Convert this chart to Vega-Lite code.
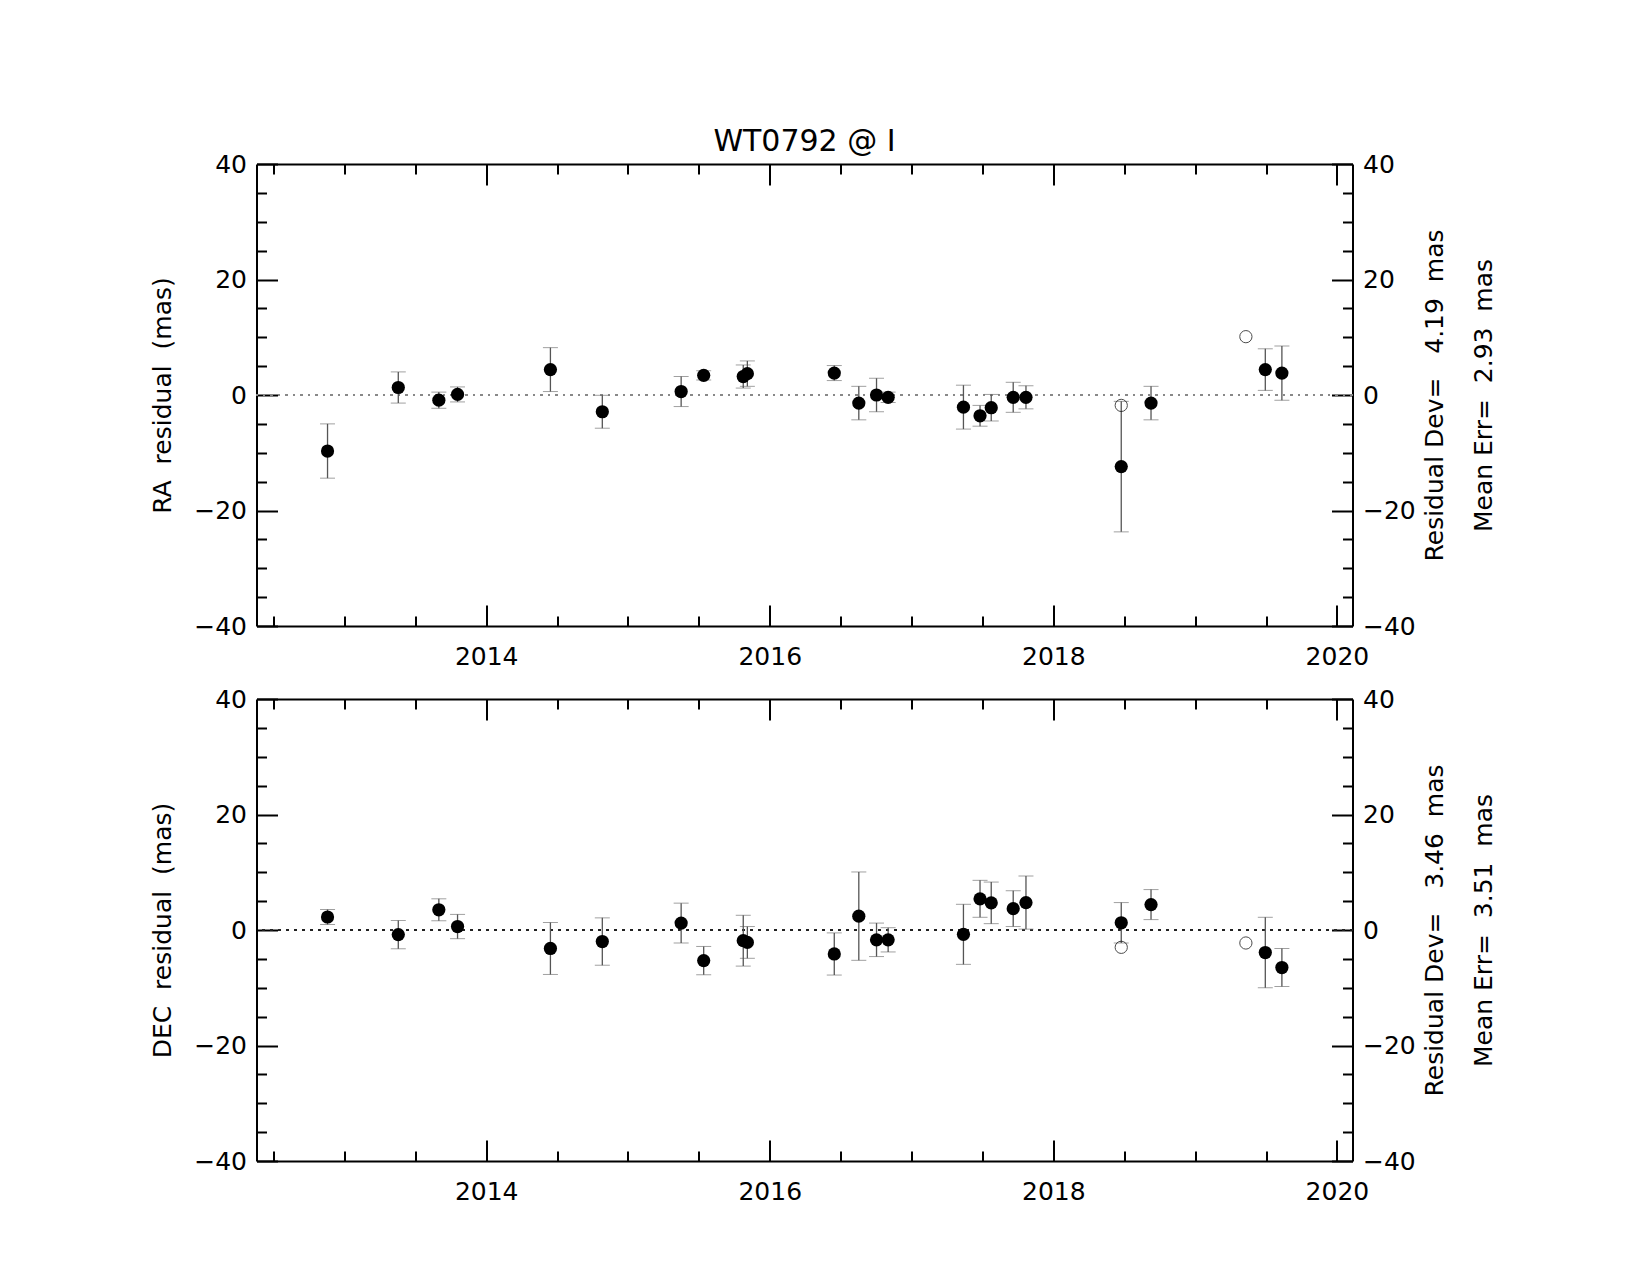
{
  "$schema": "https://vega.github.io/schema/vega-lite/v6.json",
  "autosize": {"type": "pad"},
  "padding": {"left": 150.5, "top": 127, "right": 5, "bottom": 5},
  "background": "white",
  "config": {
    "view": {"stroke": null},
    "title": {"font": "DejaVu Sans", "fontSize": 30, "fontWeight": "normal", "color": "black"},
    "axis": {
      "domainColor": "black", "domainWidth": 2, "tickColor": "black", "tickWidth": 2,
      "labelFont": "DejaVu Sans", "labelFontSize": 25, "labelColor": "black",
      "titleFont": "DejaVu Sans", "titleFontSize": 25, "titleFontWeight": "normal", "titleColor": "black",
      "grid": false, "labelOverlap": false, "labelFlush": false
    }
  },
  "datasets": {
    "pts": [
      {"panel": "RA", "kind": "filled", "year": 2012.881, "value": -9.7, "err": 4.7},
      {"panel": "RA", "kind": "filled", "year": 2013.380, "value": 1.3, "err": 2.7},
      {"panel": "RA", "kind": "filled", "year": 2013.666, "value": -0.9, "err": 1.4},
      {"panel": "RA", "kind": "filled", "year": 2013.798, "value": 0.1, "err": 1.3},
      {"panel": "RA", "kind": "filled", "year": 2014.453, "value": 4.4, "err": 3.8},
      {"panel": "RA", "kind": "filled", "year": 2014.819, "value": -2.9, "err": 2.85},
      {"panel": "RA", "kind": "filled", "year": 2015.375, "value": 0.6, "err": 2.6},
      {"panel": "RA", "kind": "filled", "year": 2015.534, "value": 3.4, "err": 0.8},
      {"panel": "RA", "kind": "filled", "year": 2015.813, "value": 3.2, "err": 2.0},
      {"panel": "RA", "kind": "filled", "year": 2015.842, "value": 3.7, "err": 2.2},
      {"panel": "RA", "kind": "filled", "year": 2016.455, "value": 3.8, "err": 1.3},
      {"panel": "RA", "kind": "filled", "year": 2016.628, "value": -1.4, "err": 2.9},
      {"panel": "RA", "kind": "filled", "year": 2016.753, "value": 0.0, "err": 2.9},
      {"panel": "RA", "kind": "filled", "year": 2016.835, "value": -0.4, "err": 0.9},
      {"panel": "RA", "kind": "filled", "year": 2017.366, "value": -2.1, "err": 3.8},
      {"panel": "RA", "kind": "filled", "year": 2017.483, "value": -3.6, "err": 1.8},
      {"panel": "RA", "kind": "filled", "year": 2017.562, "value": -2.2, "err": 2.3},
      {"panel": "RA", "kind": "filled", "year": 2017.717, "value": -0.4, "err": 2.6},
      {"panel": "RA", "kind": "filled", "year": 2017.807, "value": -0.4, "err": 2.0},
      {"panel": "RA", "kind": "filled", "year": 2018.479, "value": -12.4, "err": 11.3},
      {"panel": "RA", "kind": "filled", "year": 2018.689, "value": -1.4, "err": 2.9},
      {"panel": "RA", "kind": "filled", "year": 2019.495, "value": 4.4, "err": 3.6},
      {"panel": "RA", "kind": "filled", "year": 2019.612, "value": 3.8, "err": 4.7},
      {"panel": "RA", "kind": "open", "year": 2018.479, "value": -1.8, "err": 0},
      {"panel": "RA", "kind": "open", "year": 2019.358, "value": 10.1, "err": 0},
      {"panel": "DEC", "kind": "filled", "year": 2012.881, "value": 2.25, "err": 1.3},
      {"panel": "DEC", "kind": "filled", "year": 2013.380, "value": -0.8, "err": 2.45},
      {"panel": "DEC", "kind": "filled", "year": 2013.666, "value": 3.5, "err": 1.9},
      {"panel": "DEC", "kind": "filled", "year": 2013.798, "value": 0.6, "err": 2.1},
      {"panel": "DEC", "kind": "filled", "year": 2014.453, "value": -3.2, "err": 4.5},
      {"panel": "DEC", "kind": "filled", "year": 2014.819, "value": -2.0, "err": 4.1},
      {"panel": "DEC", "kind": "filled", "year": 2015.375, "value": 1.2, "err": 3.45},
      {"panel": "DEC", "kind": "filled", "year": 2015.534, "value": -5.3, "err": 2.45},
      {"panel": "DEC", "kind": "filled", "year": 2015.813, "value": -1.85, "err": 4.4},
      {"panel": "DEC", "kind": "filled", "year": 2015.842, "value": -2.15, "err": 2.75},
      {"panel": "DEC", "kind": "filled", "year": 2016.455, "value": -4.15, "err": 3.65},
      {"panel": "DEC", "kind": "filled", "year": 2016.628, "value": 2.4, "err": 7.65},
      {"panel": "DEC", "kind": "filled", "year": 2016.753, "value": -1.7, "err": 2.9},
      {"panel": "DEC", "kind": "filled", "year": 2016.835, "value": -1.7, "err": 2.1},
      {"panel": "DEC", "kind": "filled", "year": 2017.366, "value": -0.75, "err": 5.2},
      {"panel": "DEC", "kind": "filled", "year": 2017.483, "value": 5.4, "err": 3.2},
      {"panel": "DEC", "kind": "filled", "year": 2017.562, "value": 4.7, "err": 3.6},
      {"panel": "DEC", "kind": "filled", "year": 2017.717, "value": 3.7, "err": 3.1},
      {"panel": "DEC", "kind": "filled", "year": 2017.807, "value": 4.75, "err": 4.6},
      {"panel": "DEC", "kind": "filled", "year": 2018.479, "value": 1.25, "err": 3.5},
      {"panel": "DEC", "kind": "filled", "year": 2018.689, "value": 4.4, "err": 2.6},
      {"panel": "DEC", "kind": "filled", "year": 2019.495, "value": -3.9, "err": 6.1},
      {"panel": "DEC", "kind": "filled", "year": 2019.612, "value": -6.5, "err": 3.3},
      {"panel": "DEC", "kind": "open", "year": 2018.479, "value": -3.0, "err": 0},
      {"panel": "DEC", "kind": "open", "year": 2019.358, "value": -2.25, "err": 0}
    ]
  },
  "spacing": 73,
  "bounds": "flush",
  "vconcat": [
    {
      "width": 1096, "height": 462,
      "title": {"text": "WT0792 @ I", "anchor": "middle", "frame": "group", "baseline": "alphabetic", "offset": -29},
      "data": {"name": "pts"},
      "transform": [{"filter": "datum.panel === 'RA'"}],
      "resolve": {"axis": {"x": "independent", "y": "independent"}},
      "layer": [
        {
          "mark": {"type": "rule", "color": "#888888", "strokeWidth": 1.5, "strokeDash": [2, 5.5]},
          "encoding": {"y": {"datum": 0, "type": "quantitative", "scale": {"domain": [-40, 40], "nice": false},
            "axis": {"orient": "left", "title": null, "values": [-35, -30, -25, -15, -10, -5, 5, 10, 15, 25, 30, 35], "tickSize": -10, "labels": false, "domain": false}}}
        },
        {
          "transform": [{"filter": "datum.kind === 'filled'"}],
          "mark": {"type": "errorbar", "ticks": {"size": 15, "color": "#777777", "strokeWidth": 1.5}, "rule": {"color": "#555555", "strokeWidth": 1.3}},
          "encoding": {
            "x": {"field": "year", "type": "quantitative", "scale": {"domain": [2012.38, 2020.11], "nice": false, "zero": false},
              "axis": {"orient": "bottom", "title": null, "values": [2012.5, 2013, 2013.5, 2014.5, 2015, 2015.5, 2016.5, 2017, 2017.5, 2018.5, 2019, 2019.5], "tickSize": -10, "labels": false, "domain": false}},
            "y": {"field": "value", "type": "quantitative", "scale": {"domain": [-40, 40], "nice": false},
              "axis": {"orient": "right", "title": null, "values": [-35, -30, -25, -15, -10, -5, 5, 10, 15, 25, 30, 35], "tickSize": -10, "labels": false, "domain": false}},
            "yError": {"field": "err"}
          }
        },
        {
          "transform": [{"filter": "datum.kind === 'filled'"}],
          "mark": {"type": "circle", "color": "black", "opacity": 1, "size": 175},
          "encoding": {
            "x": {"field": "year", "type": "quantitative", "scale": {"domain": [2012.38, 2020.11], "nice": false, "zero": false},
              "axis": {"orient": "bottom", "title": null, "values": [2014, 2016, 2018, 2020], "format": "d", "tickSize": -21, "labelPadding": 39}},
            "y": {"field": "value", "type": "quantitative", "scale": {"domain": [-40, 40], "nice": false},
              "axis": {"orient": "left", "title": "RA\u00a0\u00a0residual\u00a0\u00a0(mas)", "titlePadding": 18, "values": [-40, -20, 0, 20, 40], "tickSize": -21, "labelPadding": 31}}
          }
        },
        {
          "transform": [{"filter": "datum.kind === 'open'"}],
          "mark": {"type": "point", "shape": "circle", "filled": false, "color": "black", "strokeWidth": 1, "size": 150},
          "encoding": {
            "x": {"field": "year", "type": "quantitative", "scale": {"domain": [2012.38, 2020.11], "nice": false, "zero": false},
              "axis": {"orient": "top", "title": null, "labels": false, "values": [2014, 2016, 2018, 2020], "tickSize": -21}},
            "y": {"field": "value", "type": "quantitative", "scale": {"domain": [-40, 40], "nice": false},
              "axis": {"orient": "right", "title": ["Residual Dev=\u00a0\u00a0\u00a04.19\u00a0\u00a0mas", "Mean Err=\u00a0\u00a02.93\u00a0\u00a0mas"], "titleAngle": 270, "titleBaseline": "top", "titleLineHeight": 49, "titlePadding": -42,
                "values": [-40, -20, 0, 20, 40], "tickSize": -21, "labelPadding": 31}}
          }
        },
        {
          "transform": [{"filter": "datum.kind === 'open'"}],
          "mark": {"type": "point", "shape": "circle", "filled": false, "color": "black", "opacity": 0, "size": 150},
          "encoding": {
            "x": {"field": "year", "type": "quantitative", "scale": {"domain": [2012.38, 2020.11], "nice": false, "zero": false},
              "axis": {"orient": "top", "title": null, "values": [2012.5, 2013, 2013.5, 2014.5, 2015, 2015.5, 2016.5, 2017, 2017.5, 2018.5, 2019, 2019.5], "tickSize": -10, "labels": false, "domain": false}},
            "y": {"field": "value", "type": "quantitative", "scale": {"domain": [-40, 40], "nice": false}, "axis": null}
          }
        }
      ]
    },
    {
      "width": 1096, "height": 462,
      "data": {"name": "pts"},
      "transform": [{"filter": "datum.panel === 'DEC'"}],
      "resolve": {"axis": {"x": "independent", "y": "independent"}},
      "layer": [
        {
          "mark": {"type": "rule", "color": "#222222", "strokeWidth": 1, "strokeDash": [2.5, 5.5]},
          "encoding": {"y": {"datum": 0, "type": "quantitative", "scale": {"domain": [-40, 40], "nice": false},
            "axis": {"orient": "left", "title": null, "values": [-35, -30, -25, -15, -10, -5, 5, 10, 15, 25, 30, 35], "tickSize": -10, "labels": false, "domain": false}}}
        },
        {
          "transform": [{"filter": "datum.kind === 'filled'"}],
          "mark": {"type": "errorbar", "ticks": {"size": 15, "color": "#777777", "strokeWidth": 1.5}, "rule": {"color": "#555555", "strokeWidth": 1.3}},
          "encoding": {
            "x": {"field": "year", "type": "quantitative", "scale": {"domain": [2012.38, 2020.11], "nice": false, "zero": false},
              "axis": {"orient": "bottom", "title": null, "values": [2012.5, 2013, 2013.5, 2014.5, 2015, 2015.5, 2016.5, 2017, 2017.5, 2018.5, 2019, 2019.5], "tickSize": -10, "labels": false, "domain": false}},
            "y": {"field": "value", "type": "quantitative", "scale": {"domain": [-40, 40], "nice": false},
              "axis": {"orient": "right", "title": null, "values": [-35, -30, -25, -15, -10, -5, 5, 10, 15, 25, 30, 35], "tickSize": -10, "labels": false, "domain": false}},
            "yError": {"field": "err"}
          }
        },
        {
          "transform": [{"filter": "datum.kind === 'filled'"}],
          "mark": {"type": "circle", "color": "black", "opacity": 1, "size": 175},
          "encoding": {
            "x": {"field": "year", "type": "quantitative", "scale": {"domain": [2012.38, 2020.11], "nice": false, "zero": false},
              "axis": {"orient": "bottom", "title": null, "values": [2014, 2016, 2018, 2020], "format": "d", "tickSize": -21, "labelPadding": 39}},
            "y": {"field": "value", "type": "quantitative", "scale": {"domain": [-40, 40], "nice": false},
              "axis": {"orient": "left", "title": "DEC\u00a0\u00a0residual\u00a0\u00a0(mas)", "titlePadding": 18, "values": [-40, -20, 0, 20, 40], "tickSize": -21, "labelPadding": 31}}
          }
        },
        {
          "transform": [{"filter": "datum.kind === 'open'"}],
          "mark": {"type": "point", "shape": "circle", "filled": false, "color": "black", "strokeWidth": 1, "size": 150},
          "encoding": {
            "x": {"field": "year", "type": "quantitative", "scale": {"domain": [2012.38, 2020.11], "nice": false, "zero": false},
              "axis": {"orient": "top", "title": null, "labels": false, "values": [2014, 2016, 2018, 2020], "tickSize": -21}},
            "y": {"field": "value", "type": "quantitative", "scale": {"domain": [-40, 40], "nice": false},
              "axis": {"orient": "right", "title": ["Residual Dev=\u00a0\u00a0\u00a03.46\u00a0\u00a0mas", "Mean Err=\u00a0\u00a03.51\u00a0\u00a0mas"], "titleAngle": 270, "titleBaseline": "top", "titleLineHeight": 49, "titlePadding": -42,
                "values": [-40, -20, 0, 20, 40], "tickSize": -21, "labelPadding": 31}}
          }
        },
        {
          "transform": [{"filter": "datum.kind === 'open'"}],
          "mark": {"type": "point", "shape": "circle", "filled": false, "color": "black", "opacity": 0, "size": 150},
          "encoding": {
            "x": {"field": "year", "type": "quantitative", "scale": {"domain": [2012.38, 2020.11], "nice": false, "zero": false},
              "axis": {"orient": "top", "title": null, "values": [2012.5, 2013, 2013.5, 2014.5, 2015, 2015.5, 2016.5, 2017, 2017.5, 2018.5, 2019, 2019.5], "tickSize": -10, "labels": false, "domain": false}},
            "y": {"field": "value", "type": "quantitative", "scale": {"domain": [-40, 40], "nice": false}, "axis": null}
          }
        }
      ]
    }
  ]
}
